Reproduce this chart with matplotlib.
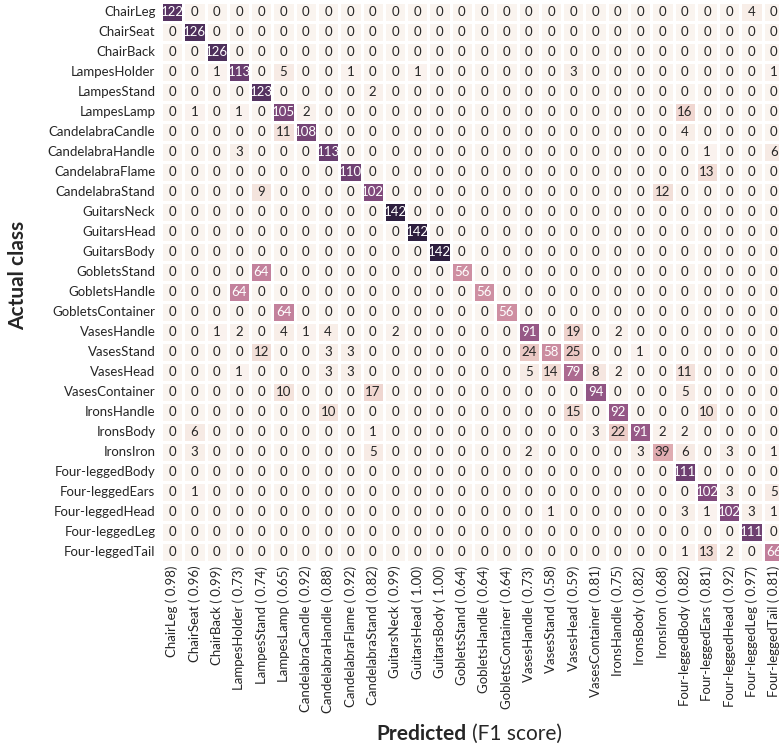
import numpy as np
import matplotlib
matplotlib.use("Agg")
import matplotlib.pyplot as plt
import seaborn as sns

classes = ["ChairLeg", "ChairSeat", "ChairBack",
           "LampesHolder", "LampesStand", "LampesLamp",
           "CandelabraCandle", "CandelabraHandle", "CandelabraFlame", "CandelabraStand",
           "GuitarsNeck", "GuitarsHead", "GuitarsBody",
           "GobletsStand", "GobletsHandle", "GobletsContainer",
           "VasesHandle", "VasesStand", "VasesHead", "VasesContainer",
           "IronsHandle", "IronsBody", "IronsIron",
           "Four-leggedBody", "Four-leggedEars", "Four-leggedHead", "Four-leggedLeg", "Four-leggedTail"]

f1 = [0.98, 0.96, 0.99, 0.73, 0.74, 0.65, 0.92, 0.88, 0.92, 0.82,
      0.99, 1.00, 1.00, 0.64, 0.64, 0.64, 0.73, 0.58, 0.59, 0.81,
      0.75, 0.82, 0.68, 0.82, 0.81, 0.92, 0.97, 0.81]

# non-zero cells: (actual, predicted, count)
cells = [
    (0, 0, 122), (0, 26, 4),
    (1, 1, 126),
    (2, 2, 126),
    (3, 2, 1), (3, 3, 113), (3, 5, 5), (3, 8, 1), (3, 11, 1), (3, 18, 3), (3, 27, 1),
    (4, 4, 123), (4, 9, 2),
    (5, 1, 1), (5, 3, 1), (5, 5, 105), (5, 6, 2), (5, 23, 16),
    (6, 5, 11), (6, 6, 108), (6, 23, 4),
    (7, 3, 3), (7, 7, 113), (7, 24, 1), (7, 27, 6),
    (8, 8, 110), (8, 24, 13),
    (9, 4, 9), (9, 9, 102), (9, 22, 12),
    (10, 10, 142),
    (11, 11, 142),
    (12, 12, 142),
    (13, 4, 64), (13, 13, 56),
    (14, 3, 64), (14, 14, 56),
    (15, 5, 64), (15, 15, 56),
    (16, 2, 1), (16, 3, 2), (16, 5, 4), (16, 6, 1), (16, 7, 4), (16, 10, 2),
    (16, 16, 91), (16, 18, 19), (16, 20, 2),
    (17, 4, 12), (17, 7, 3), (17, 8, 3), (17, 16, 24), (17, 17, 58), (17, 18, 25), (17, 21, 1),
    (18, 3, 1), (18, 7, 3), (18, 8, 3), (18, 16, 5), (18, 17, 14), (18, 18, 79),
    (18, 19, 8), (18, 20, 2), (18, 23, 11),
    (19, 5, 10), (19, 9, 17), (19, 19, 94), (19, 23, 5),
    (20, 7, 10), (20, 18, 15), (20, 20, 92), (20, 24, 10),
    (21, 1, 6), (21, 9, 1), (21, 19, 3), (21, 20, 22), (21, 21, 91), (21, 22, 2), (21, 23, 2),
    (22, 1, 3), (22, 9, 5), (22, 16, 2), (22, 21, 3), (22, 22, 39), (22, 23, 6), (22, 25, 3), (22, 27, 1),
    (23, 23, 111),
    (24, 1, 1), (24, 24, 102), (24, 25, 3), (24, 27, 5),
    (25, 17, 1), (25, 23, 3), (25, 24, 1), (25, 25, 102), (25, 26, 3), (25, 27, 1),
    (26, 26, 111),
    (27, 23, 1), (27, 24, 13), (27, 25, 2), (27, 27, 66),
]

n = len(classes)
cm = np.zeros((n, n), dtype=int)
for i, j, v in cells:
    cm[i, j] = v

xlabels = ["%s (%5.2f)" % (c, s) for c, s in zip(classes, f1)]

plt.rcParams['font.family'] = ['Lato', 'DejaVu Sans']

fig = plt.figure(figsize=(7.79, 7.49), dpi=100)
ax = fig.add_axes([161 / 779, 1 - 561.7 / 749, 624 / 779, 560 / 749])

cmap = sns.cubehelix_palette(light=0.96, dark=0.15, as_cmap=True)
sns.heatmap(cm, annot=True, fmt="d", cmap=cmap, cbar=False,
            linewidths=0.8, linecolor="white",
            xticklabels=xlabels, yticklabels=classes,
            annot_kws={"size": 9.5}, ax=ax)

ax.tick_params(axis="both", length=0, labelsize=9.5, labelcolor="#262626")
ax.tick_params(axis="x", pad=3, rotation=90)
ax.tick_params(axis="y", pad=4, rotation=0)

fig.text(18 / 779, 1 - 275 / 749, "Actual class", rotation=90, fontsize=15,
         fontweight="bold", ha="center", va="center", color="#262626")
fig.text(467 / 779, 1 - 740 / 749, "Predicted", fontsize=15, fontweight="bold",
         ha="right", va="baseline", color="#262626")
fig.text(472 / 779, 1 - 740 / 749, "(F1 score)", fontsize=15,
         ha="left", va="baseline", color="#262626")

fig.savefig("out.png", dpi=100)
